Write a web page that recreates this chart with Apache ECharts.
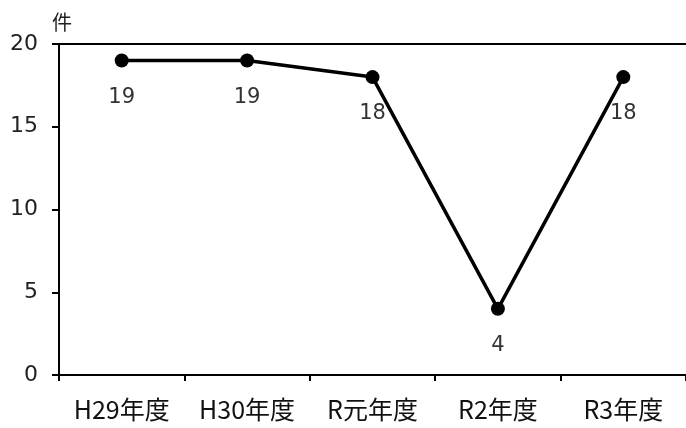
<!DOCTYPE html>
<html>
<head>
<meta charset="utf-8">
<script src="https://cdn.jsdelivr.net/npm/echarts@6/dist/echarts.min.js"></script>
<style>
  html, body { margin: 0; padding: 0; background: #fff; }
  #chart { width: 686px; height: 428px; }
</style>
</head>
<body>
<div id="chart"></div>
<script>
// 年度別の件数
const categories = ['H29年度', 'H30年度', 'R元年度', 'R2年度', 'R3年度'];
const counts = [19, 19, 18, 4, 18];
const yTicks = { min: 0, max: 20, interval: 5 };
const unitLabel = '件';

const chart = echarts.init(document.getElementById('chart'), null, { renderer: 'canvas' });

const axisLineStyle = { color: '#000', width: 2 };

chart.setOption({
  animation: false,
  backgroundColor: '#fff',
  grid: { left: 59, right: 0, top: 44, bottom: 53, containLabel: false },
  xAxis: [
    {
      type: 'category',
      data: categories,
      boundaryGap: true,
      axisLine: { lineStyle: axisLineStyle },
      axisTick: { show: true, length: 6, lineStyle: axisLineStyle },
      axisLabel: {
        color: '#111',
        fontSize: 25,
        fontFamily: '"Noto Sans CJK JP", sans-serif',
        margin: 22
      }
    },
    {
      type: 'category',
      data: categories,
      position: 'top',
      axisLine: { lineStyle: axisLineStyle },
      axisTick: { show: false },
      axisLabel: { show: false }
    }
  ],
  yAxis: {
    type: 'value',
    min: yTicks.min,
    max: yTicks.max,
    interval: yTicks.interval,
    name: unitLabel,
    nameLocation: 'end',
    nameGap: 12,
    nameTextStyle: {
      color: '#222',
      fontSize: 20,
      fontFamily: '"Noto Sans CJK JP", sans-serif',
      padding: [0, 0, 0, 6]
    },
    axisLine: { show: true, lineStyle: axisLineStyle },
    axisTick: { show: true, length: 7, lineStyle: axisLineStyle },
    splitLine: { show: false },
    axisLabel: {
      color: '#222',
      fontSize: 22,
      fontFamily: '"DejaVu Sans", sans-serif',
      margin: 21
    }
  },
  series: [
    {
      type: 'line',
      data: counts,
      symbol: 'circle',
      symbolSize: 14,
      itemStyle: { color: '#000' },
      lineStyle: { color: '#000', width: 3.5 },
      label: {
        show: true,
        position: 'bottom',
        distance: 19,
        color: '#333',
        fontSize: 21,
        fontFamily: '"DejaVu Sans", sans-serif'
      }
    }
  ]
});
</script>
</body>
</html>
